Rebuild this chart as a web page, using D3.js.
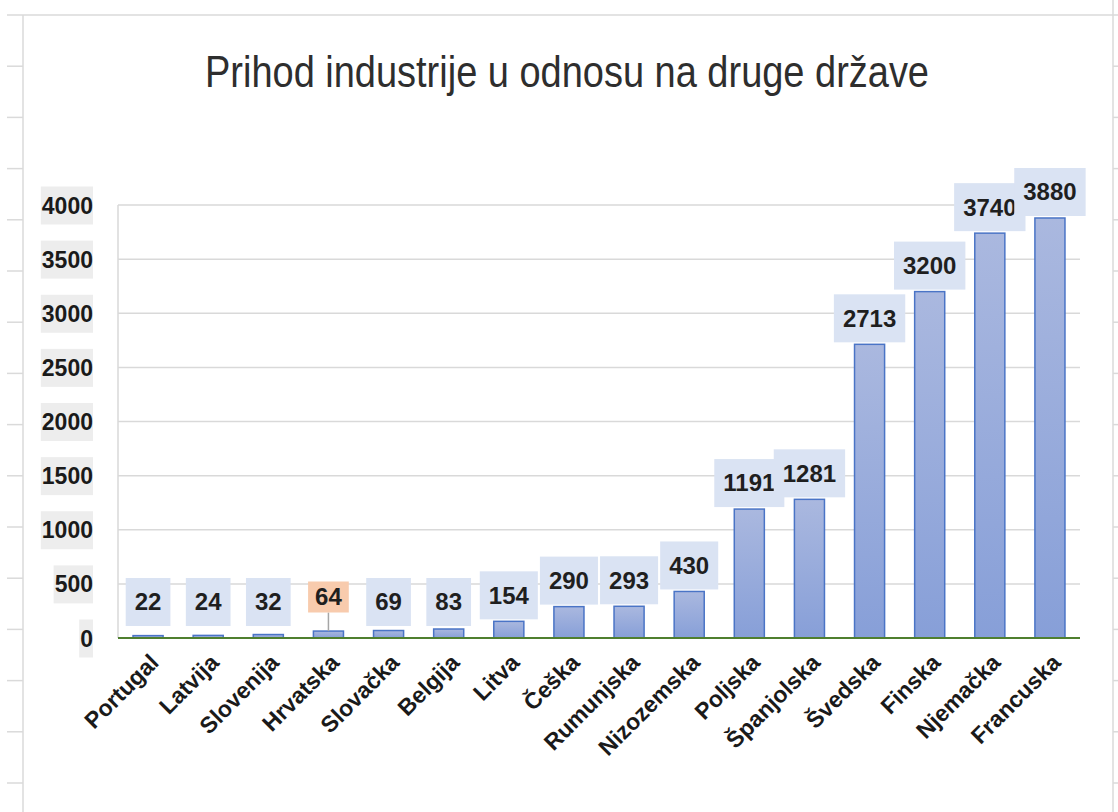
<!DOCTYPE html>
<html>
<head>
<meta charset="utf-8">
<script src="https://cdn.jsdelivr.net/npm/d3@7"></script>
<style>
  body { margin: 0; background: #fff; }
  svg text { font-family: "Liberation Sans", Arial, sans-serif; }
</style>
</head>
<body>
<div id="chart-area"></div>
<script>
// SVG Size
var width = 1118,
    height = 812;

// data
var countries = ["Portugal", "Latvija", "Slovenija", "Hrvatska", "Slovačka", "Belgija", "Litva",
    "Češka", "Rumunjska", "Nizozemska", "Poljska", "Španjolska", "Švedska", "Finska", "Njemačka", "Francuska"];
var income = [22, 24, 32, 64, 69, 83, 154, 290, 293, 430, 1191, 1281, 2713, 3200, 3740, 3880];
var yTicks = [0, 500, 1000, 1500, 2000, 2500, 3000, 3500, 4000];
var highlighted = "Hrvatska";
var title = "Prihod industrije u odnosu na druge države";

var plot = { left: 118, right: 1080, top: 205, bottom: 638 };

var svg = d3.select("#chart-area").append("svg")
    .attr("width", width)
    .attr("height", height);

// spreadsheet cells around the chart
var sheet = svg.append("g").attr("stroke", "#dadada").attr("stroke-width", 1.5);
sheet.append("line").attr("x1", 7).attr("x2", width).attr("y1", 15).attr("y2", 15);
sheet.append("line").attr("x1", 23).attr("x2", 23).attr("y1", 15).attr("y2", height);
sheet.append("line").attr("x1", 1113).attr("x2", 1113).attr("y1", 0).attr("y2", height);
d3.range(15 + 51.2, height, 51.2).forEach(function (y) {
    sheet.append("line").attr("x1", 7).attr("x2", 23).attr("y1", y).attr("y2", y);
    sheet.append("line").attr("x1", 1113).attr("x2", width).attr("y1", y).attr("y2", y);
});

var defs = svg.append("defs");
var grad = defs.append("linearGradient")
    .attr("id", "barFill")
    .attr("x1", 0).attr("y1", 0).attr("x2", 0).attr("y2", 1);
grad.append("stop").attr("offset", "0%").attr("stop-color", "#aab8df");
grad.append("stop").attr("offset", "100%").attr("stop-color", "#879fd8");

var x = d3.scaleBand()
    .domain(countries)
    .range([plot.left, plot.right])
    .paddingInner(0.5)
    .paddingOuter(0.25);

var y = d3.scaleLinear()
    .domain([0, 4000])
    .range([plot.bottom, plot.top]);

// title
svg.append("text")
    .attr("x", 567)
    .attr("y", 87)
    .attr("text-anchor", "middle")
    .attr("font-size", 44)
    .attr("fill", "#2e2e2e")
    .attr("textLength", 724)
    .attr("lengthAdjust", "spacingAndGlyphs")
    .text(title);

// gridlines
svg.append("g")
    .selectAll("line")
    .data(yTicks.filter(function (d) { return d > 0; }))
    .enter()
    .append("line")
    .attr("x1", plot.left)
    .attr("x2", plot.right)
    .attr("y1", function (d) { return y(d); })
    .attr("y2", function (d) { return y(d); })
    .attr("stroke", "#d9d9d9")
    .attr("stroke-width", 1.5);

svg.append("line")
    .attr("x1", plot.left).attr("x2", plot.left)
    .attr("y1", plot.top).attr("y2", plot.bottom)
    .attr("stroke", "#d9d9d9")
    .attr("stroke-width", 1.5);

// y axis
var yAxis = d3.axisLeft(y)
    .tickValues(yTicks)
    .tickFormat(d3.format("d"))
    .tickSize(0)
    .tickPadding(0);

var yAxisG = svg.append("g")
    .attr("class", "axis y-axis")
    .attr("transform", "translate(93,0)")
    .call(yAxis);
yAxisG.select(".domain").remove();
yAxisG.selectAll("text")
    .attr("font-size", 23)
    .attr("font-weight", "bold")
    .attr("font-family", "Liberation Sans, Arial, sans-serif")
    .attr("fill", "#1a1a1a")
    .attr("dy", "0.35em");
yAxisG.selectAll(".tick").each(function () {
    var t = d3.select(this).select("text");
    var w = t.node().getComputedTextLength();
    d3.select(this).insert("rect", "text")
        .attr("x", -w - 1)
        .attr("y", -19)
        .attr("width", w + 1)
        .attr("height", 38)
        .attr("fill", "#ededed");
});

// bars
svg.selectAll("rect.bar")
    .data(income)
    .enter()
    .append("rect")
    .attr("class", "bar")
    .attr("x", function (d, i) { return x(countries[i]); })
    .attr("width", x.bandwidth())
    .attr("y", function (d) { return y(d); })
    .attr("height", function (d) { return y(0) - y(d); })
    .attr("fill", "url(#barFill)")
    .attr("stroke", "#4a74c6")
    .attr("stroke-width", 1.5);

// zero line
svg.append("line")
    .attr("x1", plot.left).attr("x2", plot.right)
    .attr("y1", y(0)).attr("y2", y(0))
    .attr("stroke", "#4f7f2f")
    .attr("stroke-width", 2);

// x labels
var xAxis = d3.axisBottom(x).tickSize(0).tickPadding(0);
var xAxisG = svg.append("g")
    .attr("class", "axis x-axis")
    .attr("transform", "translate(0," + y(0) + ")")
    .call(xAxis);
xAxisG.select(".domain").remove();
xAxisG.selectAll("text")
    .attr("font-size", 23)
    .attr("font-weight", "bold")
    .attr("font-family", "Liberation Sans, Arial, sans-serif")
    .attr("fill", "#1a1a1a")
    .attr("text-anchor", "end")
    .attr("dy", null)
    .attr("y", 0)
    .attr("transform", "translate(12,26) rotate(-45)");

// data labels
var labels = svg.append("g").selectAll("g")
    .data(income)
    .enter()
    .append("g")
    .attr("transform", function (d, i) {
        var cy = countries[i] === highlighted ? 597 : Math.min(602, y(d) - 26);
        return "translate(" + (x(countries[i]) + x.bandwidth() / 2) + "," + cy + ")";
    });

labels.each(function (d, i) {
    var g = d3.select(this);
    var hl = countries[i] === highlighted;
    var t = g.append("text")
        .attr("text-anchor", "middle")
        .attr("dy", "0.35em")
        .attr("font-size", 24)
        .attr("font-weight", "bold")
        .attr("fill", "#1f1f1f")
        .text(d);
    var w = t.node().getComputedTextLength();
    var padX = hl ? 7 : 9, h = hl ? 31 : 48;
    g.insert("rect", "text")
        .attr("x", -w / 2 - padX)
        .attr("y", -h / 2)
        .attr("width", w + 2 * padX)
        .attr("height", h)
        .attr("fill", hl ? "#f8cbad" : "#dae3f3");
    if (hl) {
        g.insert("line", "rect")
            .attr("x1", 0).attr("x2", 0)
            .attr("y1", h / 2)
            .attr("y2", y(d) - 597)
            .attr("stroke", "#a6a6a6")
            .attr("stroke-width", 1.5);
    }
});
</script>
</body>
</html>
